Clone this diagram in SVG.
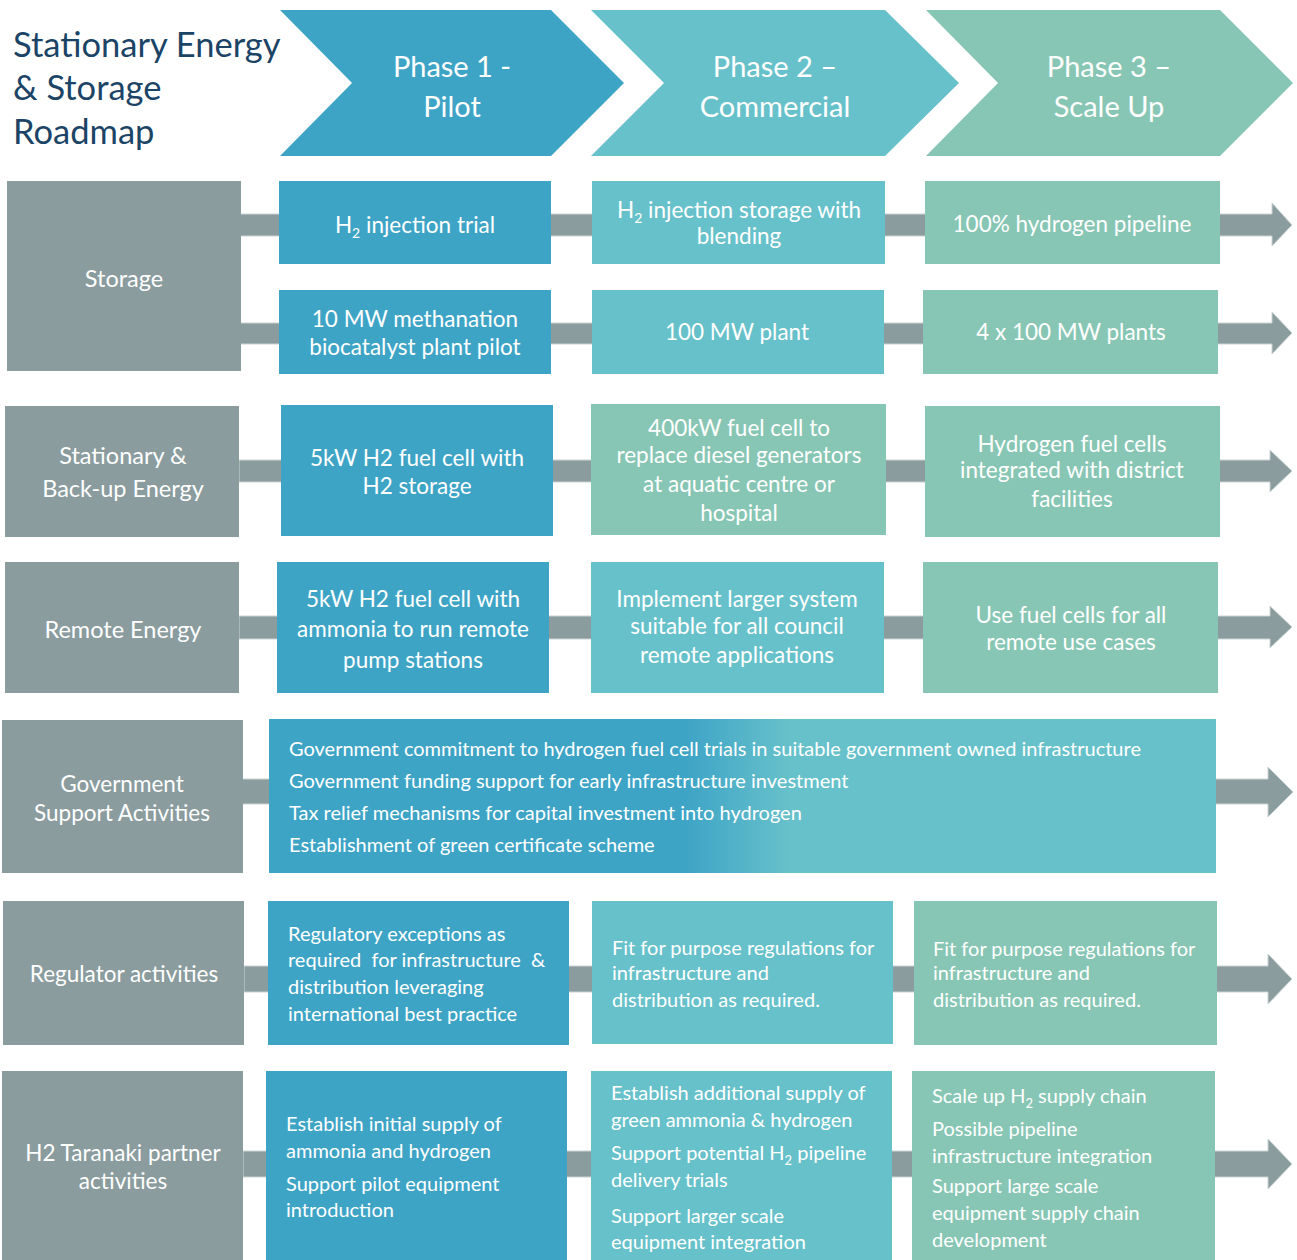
<svg xmlns="http://www.w3.org/2000/svg" width="1297" height="1260" viewBox="0 0 1297 1260">
<defs>
<style>
.blue{fill:#3EA4C6}.teal{fill:#67C1CA}.green{fill:#87C6B4}.gray{fill:#8A9C9E}
.conn{fill:#8A9C9E;stroke:#CBD3D4;stroke-width:1}
text{font-family:Lato,"Liberation Sans",sans-serif;fill:#FFFFFF}
.title{fill:#1B4466;font-size:34.5px}
.ph{font-size:29px;text-anchor:middle}
.lab{font-size:23.5px;text-anchor:middle}
.lab2{font-size:22.5px;text-anchor:middle}
.bx{font-size:22.5px;text-anchor:middle}
.ls{font-size:20px}
</style>
<linearGradient id="govg" x1="0" y1="0" x2="1" y2="0">
<stop offset="0" stop-color="#3EA4C6"/>
<stop offset="0.44" stop-color="#3EA4C6"/>
<stop offset="0.55" stop-color="#67C1CA"/>
<stop offset="1" stop-color="#67C1CA"/>
</linearGradient>
</defs>
<rect width="1297" height="1260" fill="#FFFFFF"/>

<g id="title">
<text class="title" x="13" y="57">Stationary Energy</text>
<text class="title" x="13" y="100">&amp; Storage</text>
<text class="title" x="13" y="144">Roadmap</text>
</g>

<g id="phase1"><polygon class="blue" points="280,10 551,10 624,83 551,156 280,156 352,83"/>
<text class="ph" x="452" y="77">Phase 1 -</text><text class="ph" x="452" y="117">Pilot</text></g>
<g id="phase2"><polygon class="teal" points="591,10 885,10 959,83 885,156 591,156 664,83"/>
<text class="ph" x="775" y="77">Phase 2 –</text><text class="ph" x="775" y="117">Commercial</text></g>
<g id="phase3"><polygon class="green" points="926,10 1220,10 1293,83 1220,156 926,156 998,83"/>
<text class="ph" x="1109" y="77">Phase 3 –</text><text class="ph" x="1109" y="117">Scale Up</text></g>

<g id="connectors">
<path class="conn" d="M240,214H1272V203L1292,225L1272,246V236H240Z"/>
<path class="conn" d="M240,323H1272V312L1292,333L1272,354V344H240Z"/>
<path class="conn" d="M239,460H1270V450L1292,471L1270,492V482H239Z"/>
<path class="conn" d="M239,616H1270V606L1292,627L1270,648V639H239Z"/>
<path class="conn" d="M242,779H1268V767L1293,792L1268,817V804H242Z"/>
<path class="conn" d="M244,966H1268V954L1292,979L1268,1004V992H244Z"/>
<path class="conn" d="M243,1151H1268V1139L1292,1164L1268,1189V1177H243Z"/>
</g>

<g id="storage"><rect class="gray" x="7" y="181" width="234" height="190"/>
<text class="lab" x="124" y="287">Storage</text></g>
<g id="s-p1a"><rect class="blue" x="279" y="181" width="272" height="83"/>
<text class="bx" x="415" y="233">H<tspan font-size="14" dy="5">2</tspan><tspan dy="-5"> injection trial</tspan></text></g>
<g id="s-p1b"><rect class="blue" x="279" y="290" width="272" height="84"/>
<text class="bx" x="415" y="327">10 MW methanation</text><text class="bx" x="415" y="355">biocatalyst plant pilot</text></g>
<g id="s-p2a"><rect class="teal" x="592" y="181" width="293" height="83"/>
<text class="bx" x="739" y="218">H<tspan font-size="14" dy="5">2</tspan><tspan dy="-5"> injection storage with</tspan></text><text class="bx" x="739" y="244">blending</text></g>
<g id="s-p2b"><rect class="teal" x="592" y="290" width="292" height="84"/>
<text class="bx" x="737" y="340">100 MW plant</text></g>
<g id="s-p3a"><rect class="green" x="925" y="181" width="295" height="83"/>
<text class="bx" x="1072" y="232">100% hydrogen pipeline</text></g>
<g id="s-p3b"><rect class="green" x="923" y="290" width="295" height="84"/>
<text class="bx" x="1071" y="340">4 x 100 MW plants</text></g>

<g id="stationary"><rect class="gray" x="5" y="406" width="234" height="131"/>
<text class="lab" x="123" y="464">Stationary &amp;</text><text class="lab" x="123" y="497">Back-up Energy</text></g>
<g id="st-p1"><rect class="blue" x="281" y="405" width="272" height="131"/>
<text class="bx" x="417" y="466">5kW H2 fuel cell with</text><text class="bx" x="417" y="494">H2 storage</text></g>
<g id="st-p2"><rect class="green" x="591" y="404" width="295" height="131"/>
<text class="bx" x="739" y="436">400kW fuel cell to</text><text class="bx" x="739" y="463">replace diesel generators</text><text class="bx" x="739" y="492">at aquatic centre or</text><text class="bx" x="739" y="521">hospital</text></g>
<g id="st-p3"><rect class="green" x="925" y="406" width="295" height="131"/>
<text class="bx" x="1072" y="452">Hydrogen fuel cells</text><text class="bx" x="1072" y="478">integrated with district</text><text class="bx" x="1072" y="507">facilities</text></g>

<g id="remote"><rect class="gray" x="5" y="562" width="234" height="131"/>
<text class="lab" x="123" y="638">Remote Energy</text></g>
<g id="r-p1"><rect class="blue" x="277" y="562" width="272" height="131"/>
<text class="bx" x="413" y="607">5kW H2 fuel cell with</text><text class="bx" x="413" y="637">ammonia to run remote</text><text class="bx" x="413" y="668">pump stations</text></g>
<g id="r-p2"><rect class="teal" x="591" y="562" width="293" height="131"/>
<text class="bx" x="737" y="607">Implement larger system</text><text class="bx" x="737" y="634">suitable for all council</text><text class="bx" x="737" y="663">remote applications</text></g>
<g id="r-p3"><rect class="green" x="923" y="562" width="295" height="131"/>
<text class="bx" x="1071" y="623">Use fuel cells for all</text><text class="bx" x="1071" y="650">remote use cases</text></g>

<g id="government"><rect class="gray" x="2" y="720" width="241" height="153"/>
<text class="lab2" x="122" y="792">Government</text><text class="lab2" x="122" y="821">Support Activities</text></g>
<g id="gov-actions"><rect x="269" y="719" width="947" height="154" fill="url(#govg)"/>
<text class="ls" x="289" y="756">Government commitment to hydrogen fuel cell trials in suitable government owned infrastructure</text>
<text class="ls" x="289" y="788">Government funding support for early infrastructure investment</text>
<text class="ls" x="289" y="820">Tax relief mechanisms for capital investment into hydrogen</text>
<text class="ls" x="289" y="852">Establishment of green certificate scheme</text></g>

<g id="regulator"><rect class="gray" x="3" y="901" width="241" height="144"/>
<text class="lab2" x="124" y="982">Regulator activities</text></g>
<g id="rg-p1"><rect class="blue" x="268" y="901" width="301" height="144"/>
<text class="ls" x="288" y="941">Regulatory exceptions as</text><text class="ls" x="288" y="967" xml:space="preserve">required  for infrastructure  &amp;</text><text class="ls" x="288" y="994">distribution leveraging</text><text class="ls" x="288" y="1021">international best practice</text></g>
<g id="rg-p2"><rect class="teal" x="592" y="901" width="301" height="143"/>
<text class="ls" x="612" y="955">Fit for purpose regulations for</text><text class="ls" x="612" y="980">infrastructure and</text><text class="ls" x="612" y="1007">distribution as required.</text></g>
<g id="rg-p3"><rect class="green" x="914" y="901" width="303" height="144"/>
<text class="ls" x="933" y="956">Fit for purpose regulations for</text><text class="ls" x="933" y="980">infrastructure and</text><text class="ls" x="933" y="1007">distribution as required.</text></g>

<g id="taranaki"><rect class="gray" x="2" y="1071" width="241" height="189"/>
<text class="lab2" x="123" y="1161">H2 Taranaki partner</text><text class="lab2" x="123" y="1189">activities</text></g>
<g id="tk-p1"><rect class="blue" x="266" y="1071" width="301" height="189"/>
<text class="ls" x="286" y="1131">Establish initial supply of</text><text class="ls" x="286" y="1158">ammonia and hydrogen</text><text class="ls" x="286" y="1191">Support pilot equipment</text><text class="ls" x="286" y="1217">introduction</text></g>
<g id="tk-p2"><rect class="teal" x="591" y="1071" width="301" height="189"/>
<text class="ls" x="611" y="1100">Establish additional supply of</text><text class="ls" x="611" y="1127">green ammonia &amp; hydrogen</text><text class="ls" x="611" y="1160">Support potential H<tspan font-size="13" dy="5">2</tspan><tspan dy="-5"> pipeline</tspan></text><text class="ls" x="611" y="1187">delivery trials</text><text class="ls" x="611" y="1223">Support larger scale</text><text class="ls" x="611" y="1249">equipment integration</text></g>
<g id="tk-p3"><rect class="green" x="912" y="1071" width="303" height="189"/>
<text class="ls" x="932" y="1103">Scale up H<tspan font-size="13" dy="5">2</tspan><tspan dy="-5"> supply chain</tspan></text><text class="ls" x="932" y="1136">Possible pipeline</text><text class="ls" x="932" y="1163">infrastructure integration</text><text class="ls" x="932" y="1193">Support large scale</text><text class="ls" x="932" y="1220">equipment supply chain</text><text class="ls" x="932" y="1247">development</text></g>
</svg>
